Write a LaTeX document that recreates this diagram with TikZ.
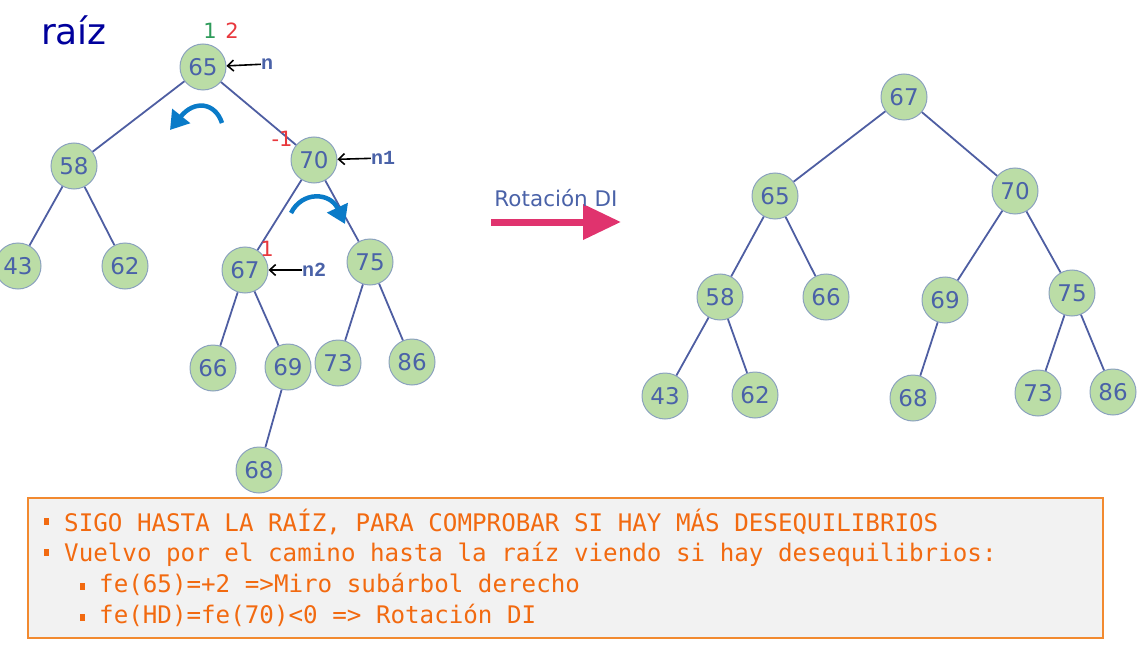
\documentclass[tikz,border=0pt]{standalone}
\usepackage{fontspec}
\setmainfont{DejaVu Sans}
\newfontfamily\boxfont{DejaVu Sans Mono}
\newfontfamily\ptrfont{Liberation Mono}
\usepackage{xcolor}
\usetikzlibrary{positioning,arrows.meta}
\definecolor{nodefill}{HTML}{BBDDA6}
\definecolor{nodeline}{HTML}{8BA2BE}
\definecolor{numblue}{HTML}{4A62A8}
\definecolor{edgeblue}{HTML}{4E5EA2}
\definecolor{raizblue}{HTML}{00009C}
\definecolor{rotpink}{HTML}{E0336E}
\definecolor{rotblue}{HTML}{0A7BC8}
\definecolor{balred}{HTML}{E8383D}
\definecolor{balgreen}{HTML}{2E9B5A}
\definecolor{txtorange}{HTML}{F26A10}
\definecolor{boxorange}{HTML}{F28A30}
\definecolor{boxgrey}{HTML}{F2F2F2}

\begin{document}
\begin{tikzpicture}[x=1pt, y=-1pt,
  main/.style={circle, draw=nodeline, line width=1pt, fill=nodefill, text=numblue, minimum size=46pt, inner sep=0pt, font=\fontsize{23}{23}\selectfont},
  edge/.style={draw=edgeblue, line width=1.8pt},
  bal/.style={inner sep=0pt, font=\fontsize{21}{21}\selectfont},
  ptr/.style={inner sep=0pt, text=numblue, font=\ptrfont\bfseries\fontsize{20}{20}\selectfont},
  point/.style={draw=black, line width=1.6pt, -{Straight Barb[length=6pt,width=11pt]}},
  rot/.style={draw=rotblue, line width=4.5pt, -{Triangle[length=18pt,width=22pt]}},
  line/.style={anchor=base west, inner sep=0pt, text=txtorange, font=\boxfont\fontsize{24.2}{24.2}\selectfont}]
\useasboundingbox (0,0) rectangle (1147,671);

\node[text=raizblue, font=\fontsize{36}{36}\selectfont] (raiz) at (74,30) {raíz};

\node[main] (a65) at (203,67) {65};
\node[main] (a58) at (74,166) {58};
\node[main] (a70) at (314,160) {70};
\node[main] (a43) at (18,266) {43};
\node[main] (a62) at (125,266) {62};
\node[main] (a67) at (245,270) {67};
\node[main] (a75) at (370,262) {75};
\node[main] (a66) at (213,368) {66};
\node[main] (a69) at (288,367) {69};
\node[main] (a73) at (338,363) {73};
\node[main] (a86) at (412,362) {86};
\node[main] (a68) at (259,470) {68};
\foreach \p/\c in {a65/a58, a65/a70, a58/a43, a58/a62, a70/a67, a70/a75, a67/a66, a67/a69, a75/a73, a75/a86, a69/a68}
  \draw[edge] (\p) -- (\c);

\node[bal, text=balgreen] (f1) at (210,31) {1};
\node[bal, text=balred] (f2) at (232,31) {2};
\node[bal, text=balred] (f3) at (282,139) {-1};
\node[bal, text=balred] (f4) at (267,249) {1};

\node[ptr] (n) at (267,64) {n};
\node[ptr] (n1) at (383,158) {n1};
\node[ptr] (n2) at (314,270) {n2};
\draw[point] (n) -- (a65);
\draw[point] (n1) -- (a70);
\draw[point] (n2) -- (a67);

\draw[rot] (222,123) .. controls (215,102) and (194,100) .. (170,130);
\draw[rot] (291,213) .. controls (302,191) and (330,192) .. (345,224);

\coordinate (p1) at (491,222);
\coordinate (p2) at (621,222);
\draw[draw=rotpink, line width=7pt, -{Triangle[length=38pt,width=34pt]}] (p1) -- (p2);
\node[text=numblue, font=\fontsize{21.5}{21.5}\selectfont] (rl) at (556,198) {Rotación DI};

\node[main] (b67) at (904,97) {67};
\node[main] (b65) at (775,196) {65};
\node[main] (b70) at (1015,191) {70};
\node[main] (b58) at (720,297) {58};
\node[main] (b66) at (826,297) {66};
\node[main] (b69) at (945,300) {69};
\node[main] (b75) at (1072,293) {75};
\node[main] (b43) at (665,396) {43};
\node[main] (b62) at (755,395) {62};
\node[main] (b68) at (913,398) {68};
\node[main] (b73) at (1038,393) {73};
\node[main] (b86) at (1113,392) {86};
\foreach \p/\c in {b67/b65, b67/b70, b65/b58, b65/b66, b58/b43, b58/b62, b70/b69, b70/b75, b69/b68, b75/b73, b75/b86}
  \draw[edge] (\p) -- (\c);

\draw[draw=boxorange, fill=boxgrey, line width=1.2pt] (28,498) rectangle (1103,638);
\foreach \x/\y in {46/521, 46/552, 82/586, 82/617}
  \fill[txtorange] (\x-2.5,\y-3.5) rectangle (\x+2.5,\y+3.5);
\node[line] (t1) at (64,531) {SIGO HASTA LA RAÍZ, PARA COMPROBAR SI HAY MÁS DESEQUILIBRIOS};
\node[line] (t2) at (64,561) {Vuelvo por el camino hasta la raíz viendo si hay desequilibrios:};
\node[line] (t3) at (99,592) {fe(65)=+2 =>Miro subárbol derecho};
\node[line] (t4) at (99,623) {fe(HD)=fe(70)<0 => Rotación DI};
\end{tikzpicture}
\end{document}
